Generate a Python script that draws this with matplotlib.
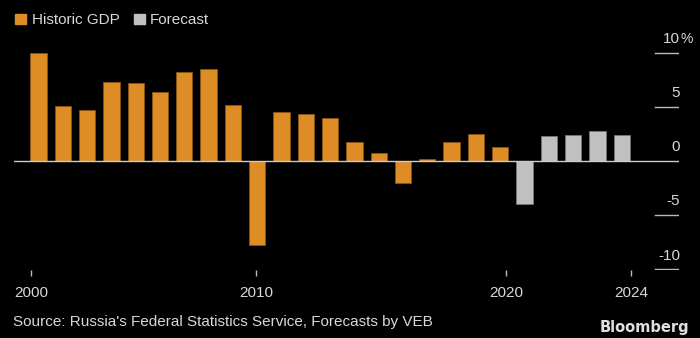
import numpy as np
import matplotlib.pyplot as plt
import matplotlib.transforms as mtransforms

# Russia real GDP growth, % (historic vs VEB forecast)
years = list(range(2000, 2025))
gdp = [10.0, 5.1, 4.7, 7.3, 7.2, 6.4, 8.2, 8.5, 5.2, -7.8,
       4.5, 4.3, 4.0, 1.8, 0.7, -2.0, 0.2, 1.8, 2.5, 1.3,
       -4.0, 2.3, 2.4, 2.8, 2.4]
first_forecast = 2020
xtick_labels = ['2000', '2010', '2020', '2024']
ytick_values = [10, 5, 0, -5, -10]

orange = '#DE8C26'
grey = '#C0C0C0'
txt = '#D8D8D8'
fs = 11

plt.rcParams['font.family'] = ['Liberation Sans', 'DejaVu Sans']

W, H = 700, 338
fig = plt.figure(figsize=(W / 100, H / 100), dpi=100, facecolor='black')

# axes placement in pixels
left_px, right_px = 14, 679
zero_px, unit_px = 161, 10.83
top_px, bot_px = 36, 270
bar0_px, step_px = 38.5, 24.3

ax = fig.add_axes([left_px / W, 1 - bot_px / H,
                   (right_px - left_px) / W, (bot_px - top_px) / H])
ax.set_facecolor('black')
ax.set_xlim((left_px - bar0_px) / step_px, (right_px - bar0_px) / step_px)
ax.set_ylim(-(bot_px - zero_px) / unit_px, (zero_px - top_px) / unit_px)

idx = np.arange(len(years))
colors = [grey if y >= first_forecast else orange for y in years]
edges = ['#777777' if y >= first_forecast else '#8A5512' for y in years]
ax.bar(idx, gdp, width=0.67, color=colors, edgecolor=edges, linewidth=0.6,
       zorder=2)

ax.axhline(0, color='#CCCCCC', linewidth=1.0, zorder=3)
gx0 = (655 - left_px) / (right_px - left_px)
for v in ytick_values:
    if v != 0:
        ax.axhline(v, xmin=gx0, xmax=1, color='#BBBBBB', linewidth=1.0)

trans = mtransforms.blended_transform_factory(ax.transAxes, ax.transData)
lab_x = (680 - left_px) / (right_px - left_px)
for v in ytick_values:
    ax.text(lab_x, v + 0.9, str(v), transform=trans,
            ha='right', va='baseline', color=txt, fontsize=fs)
    if v == 10:
        ax.text(lab_x, v + 0.9, '%', transform=trans, ha='left',
                va='baseline', color=txt, fontsize=fs - 1)

# year ticks sit on the date scale, not exactly on the bars
tick_px = [31, 256, 506, 631]
ax.set_xticks([(p - bar0_px) / step_px for p in tick_px])
ax.set_xticklabels(xtick_labels, color=txt, fontsize=fs)
ax.tick_params(axis='x', direction='out', length=4, width=1,
               color='#BBBBBB', pad=7.5)
ax.set_yticks([])
for s in ax.spines.values():
    s.set_visible(False)

# legend
fig.patches.append(plt.Rectangle((15 / W, 1 - 24 / H), 10.5 / W, 10.5 / H,
                                 transform=fig.transFigure, color=orange))
fig.text(31.5 / W, 1 - 23.5 / H, 'Historic GDP', color=txt, fontsize=fs,
         va='baseline')
fig.patches.append(plt.Rectangle((134 / W, 1 - 24 / H), 10.5 / W, 10.5 / H,
                                 transform=fig.transFigure, color=grey))
fig.text(150 / W, 1 - 23.5 / H, 'Forecast', color=txt, fontsize=fs,
         va='baseline')

fig.text(13 / W, 1 - 326 / H,
         "Source: Russia's Federal Statistics Service, Forecasts by VEB",
         color=txt, fontsize=fs, va='baseline')
fig.text(689 / W, 1 - 332 / H, 'Bloomberg', color='#E0E0E0', fontsize=10.5,
         fontweight='bold', family='DejaVu Sans', ha='right', va='baseline')

fig.savefig('out.png', dpi=100, facecolor='black')
